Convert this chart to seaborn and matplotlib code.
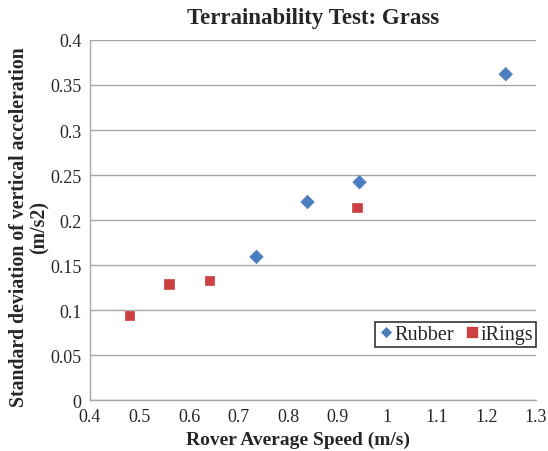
import matplotlib
matplotlib.use("Agg")
import matplotlib.pyplot as plt
import seaborn as sns
import pandas as pd

rubber_speed = [0.736, 0.839, 0.944, 1.239]
rubber_std = [0.159, 0.220, 0.242, 0.362]
irings_speed = [0.480, 0.559, 0.641, 0.939]
irings_std = [0.094, 0.129, 0.133, 0.214]
series_names = ["Rubber", "iRings"]
x_ticks = [0.4, 0.5, 0.6, 0.7, 0.8, 0.9, 1.0, 1.1, 1.2, 1.3]
x_tick_labels = ["0.4", "0.5", "0.6", "0.7", "0.8", "0.9", "1", "1.1", "1.2", "1.3"]
y_ticks = [0, 0.05, 0.1, 0.15, 0.2, 0.25, 0.3, 0.35, 0.4]
y_tick_labels = ["0", "0.05", "0.1", "0.15", "0.2", "0.25", "0.3", "0.35", "0.4"]

df = pd.DataFrame({
    "speed": rubber_speed + irings_speed,
    "std": rubber_std + irings_std,
    "series": [series_names[0]] * len(rubber_speed) + [series_names[1]] * len(irings_speed),
})

sns.set_style("white")
plt.rcParams["font.family"] = ["Liberation Serif", "DejaVu Serif"]

fig = plt.figure(figsize=(5.48, 4.52), dpi=100)
ax = fig.add_axes([0.1642, 0.1128, 0.8138, 0.7965])

sns.scatterplot(
    data=df, x="speed", y="std", hue="series", style="series",
    palette={"Rubber": "#4a7ebf", "iRings": "#cc4040"},
    markers={"Rubber": "D", "iRings": "s"},
    s=60, linewidth=0.5, ax=ax, zorder=3,
)
for coll, ms in zip(ax.collections, [47, 125]):
    coll.set_sizes([ms])
    coll.set_edgecolor(coll.get_facecolor())

ax.set_xlim(0.4, 1.3)
ax.set_ylim(0, 0.4)
ax.set_xticks(x_ticks)
ax.set_xticklabels(x_tick_labels, fontsize=13)
ax.set_yticks(y_ticks)
ax.set_yticklabels(y_tick_labels, fontsize=13)
ax.tick_params(length=0, pad=6)
ax.grid(axis="y", color="#a8a8a8", linewidth=1.0)
ax.set_axisbelow(True)
for side in ["top", "right"]:
    ax.spines[side].set_visible(False)
for side in ["left", "bottom"]:
    ax.spines[side].set_color("#a8a8a8")
    ax.spines[side].set_linewidth(1.0)

ax.set_xlabel("Rover Average Speed (m/s)", fontsize=14, fontweight="bold")
ax.xaxis.set_label_coords(0.466, -0.086)
ax.set_ylabel("Standard deviation of vertical acceleration\n(m/s2)", fontsize=14.2,
              fontweight="bold", linespacing=1.0)
ax.yaxis.set_label_coords(-0.091, 0.483)
ax.set_title("Terrainability Test: Grass", fontsize=16.5, fontweight="bold", pad=12)

handles, labels = ax.get_legend_handles_labels()
leg = ax.legend(handles, labels, loc="lower right", bbox_to_anchor=(1.0, 0.147),
                borderaxespad=0, ncol=2, fontsize=14.5, frameon=True, fancybox=False,
                handletextpad=0.0, columnspacing=0.5, borderpad=0.15,
                handlelength=0.8)
leg.get_frame().set_edgecolor("black")
leg.get_frame().set_linewidth(1.2)
for h, ms in zip(leg.legend_handles, [6.5, 8.5]):
    try:
        h.set_markersize(ms)
    except AttributeError:
        h.set_sizes([ms ** 2])

fig.savefig("out.png", dpi=100)
